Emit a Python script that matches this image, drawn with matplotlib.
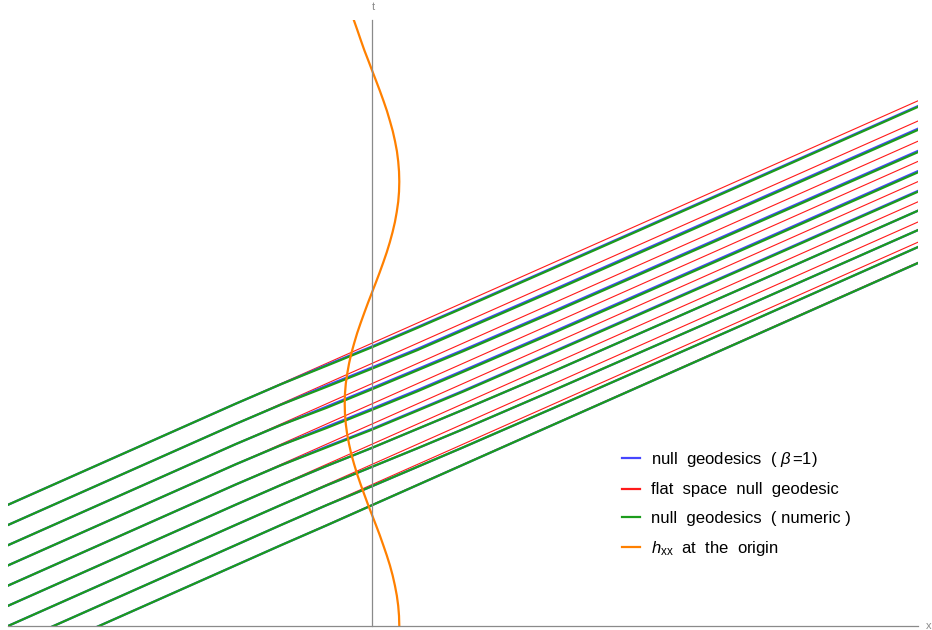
import numpy as np
import matplotlib.pyplot as plt
from matplotlib.lines import Line2D

plt.rcParams['font.family'] = ['Liberation Sans', 'DejaVu Sans']
plt.rcParams['mathtext.fontset'] = 'custom'
plt.rcParams['mathtext.rm'] = 'Liberation Sans'
plt.rcParams['mathtext.it'] = 'Liberation Sans:italic'

# null rays t = x + c
intercepts = [7, 6.5, 6, 5.5, 5, 4.5, 4, 3.5, 3]

# numeric geodesics: how far each ray falls behind the flat one (in t) at x_nodes
x_nodes = [-4, -1.5, -1.0, -0.5, 0, 0.5, 1, 2, 4, 6]
green_lag = [
    [0, 0, 0.015, 0.06, 0.10, 0.12, 0.13, 0.14, 0.15, 0.15],
    [0, 0, 0.02, 0.08, 0.13, 0.17, 0.18, 0.20, 0.21, 0.22],
    [0, 0, 0.025, 0.10, 0.14, 0.17, 0.20, 0.23, 0.25, 0.27],
    [0, 0, 0.025, 0.10, 0.15, 0.19, 0.21, 0.24, 0.26, 0.27],
    [0, 0, 0.02, 0.08, 0.14, 0.17, 0.20, 0.22, 0.24, 0.25],
    [0, 0, 0.01, 0.04, 0.09, 0.12, 0.15, 0.19, 0.21, 0.22],
    [0, 0, 0.005, 0.02, 0.06, 0.10, 0.13, 0.16, 0.19, 0.20],
    [0, 0, 0.0, 0.01, 0.04, 0.06, 0.08, 0.10, 0.12, 0.12],
    [0, 0, 0.0, 0.01, 0.01, 0.01, 0.01, 0.01, 0.015, 0.015],
]
# beta = 1 solution sits a touch above the numeric one
blue_gap = [0.02, 0.03, 0.03, 0.03, 0.02, 0.0, 0.0, 0.0, 0.0]

# h_xx at the origin, sampled every 0.25 in t
t_h = np.arange(0, 15.01, 0.25)
hxx = [0.300, 0.297, 0.288, 0.273, 0.252, 0.227, 0.197, 0.162, 0.124, 0.085,
       0.043, 0.000, -0.043, -0.084, -0.124, -0.162, -0.196, -0.227, -0.252,
       -0.273, -0.288, -0.297, -0.300, -0.297, -0.288, -0.272, -0.252, -0.227,
       -0.196, -0.163, -0.125, -0.085, -0.044, -0.001, 0.042, 0.084, 0.124,
       0.162, 0.196, 0.226, 0.252, 0.272, 0.288, 0.297, 0.300, 0.297, 0.288,
       0.274, 0.253, 0.228, 0.197, 0.164, 0.126, 0.086, 0.044, 0.001, -0.041,
       -0.084, -0.123, -0.161, -0.200]

c_blue = '#4646ff'
c_red = '#ff1a1a'
c_green = '#1c9c1c'
c_orange = '#ff8000'

fig = plt.figure(figsize=(9.32, 6.3), dpi=100)
ax = fig.add_axes([8 / 932, 4 / 630, 910 / 932, 606 / 630])
ax.set_xlim(-4, 6)
ax.set_ylim(0, 15)

xs = np.array(x_nodes, dtype=float)
for c, lag, gap in zip(intercepts, green_lag, blue_gap):
    lag = np.array(lag)
    blue_lag = np.where(lag > gap, lag - gap, lag)
    ax.plot([x_nodes[0], x_nodes[-1]], [x_nodes[0] + c, x_nodes[-1] + c],
            color=c_red, lw=0.8, zorder=2)
    ax.plot(xs, xs + c - blue_lag, color=c_blue, lw=1.6, zorder=3)
    ax.plot(xs, xs + c - lag, color=c_green, lw=1.6, zorder=4)

ax.plot(hxx, t_h, color=c_orange, lw=1.6, zorder=5)

# axes through the origin, no ticks
for s in ['top', 'right']:
    ax.spines[s].set_visible(False)
ax.spines['left'].set_position(('data', 0))
for s in ['left', 'bottom']:
    ax.spines[s].set_color('#8a8a8a')
    ax.spines[s].set_linewidth(0.9)
    ax.spines[s].set_zorder(6)
ax.set_xticks([])
ax.set_yticks([])
ax.patch.set_visible(False)

fig.text(373 / 932, 1 - 7 / 630, 't', color='#8a8a8a', fontsize=8,
         ha='center', va='center')
fig.text(929 / 932, 1 - 626 / 630, 'x', color='#8a8a8a', fontsize=8,
         ha='center', va='center')

handles = [Line2D([], [], color=col, lw=1.6)
           for col in [c_blue, c_red, c_green, c_orange]]
labels = [r'null  geodesics  ( $\beta\,$=1)',
          'flat  space  null  geodesic',
          'null  geodesics  ( numeric )',
          r'$h_{\rm xx}$  at  the  origin']
fig.legend(handles, labels, loc='upper left',
           bbox_to_anchor=(622 / 932, 1 - 450 / 630), frameon=False,
           fontsize=12, handlelength=1.05, handletextpad=0.7,
           labelspacing=0.8, borderaxespad=0, borderpad=0)

fig.savefig('out.png', dpi=100)
